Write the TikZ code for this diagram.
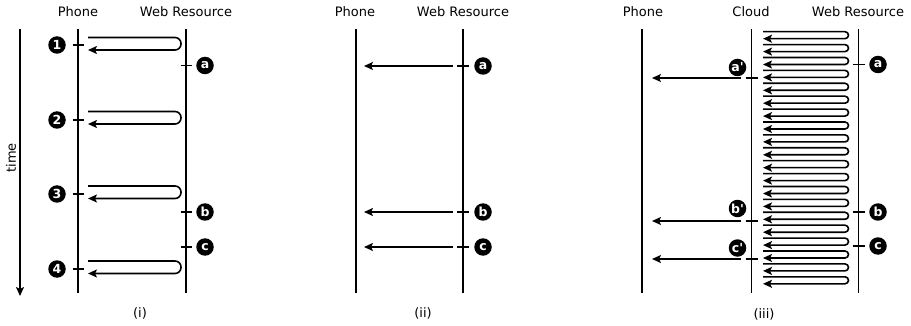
\documentclass[tikz,border=0pt]{standalone}
\usepackage{fontspec}
\setmainfont{DejaVu Sans}
\setmonofont{DejaVu Sans}
\usetikzlibrary{arrows.meta}
\begin{document}
\begin{tikzpicture}[x=1pt,y=-1pt,
  life/.style={line width=1.7pt},
  msg/.style={line width=1.6pt,-{Stealth[length=9pt,width=8pt,inset=2pt]}},
  tickmark/.style={line width=1.6pt},
  ev/.style={circle,fill=black,text=white,font=\ttfamily\bfseries\fontsize{12.5}{12.5}\selectfont,inner sep=0pt,minimum size=17.5pt},
  hdr/.style={font=\fontsize{13}{13}\selectfont}]
\useasboundingbox (0,0) rectangle (911,326);
% ---------------- panel (i)
\node[hdr] (p1) at (78,12) {Phone};
\node[hdr] (w1) at (186,12) {Web Resource};
\coordinate (p1t) at (78,29); \coordinate (p1b) at (78,293);
\coordinate (w1t) at (186,29); \coordinate (w1b) at (186,293);
\draw[life] (p1t) -- (p1b);
\draw[life] (w1t) -- (w1b);
\coordinate (tt) at (20,29); \coordinate (tb) at (20,296);
\draw[msg] (tt) -- (tb);
\node[hdr,rotate=90] (time) at (11,158) {time};
\foreach \n/\y/\m in {1/37.5/45,2/111.5/120,3/186/194,4/261/269}{
  \coordinate (L\n s) at (88,\y);
  \coordinate (L\n e) at (88,\y+12.5);
  \draw[msg,rounded corners=6pt] (L\n s) -- (181,\y) -- (181,\y+12.5) -- (L\n e);
  \node[ev] (n\n) at (57,\m) {\n};
  \coordinate (t\n a) at (72.7,\m); \coordinate (t\n b) at (83.5,\m);
  \draw[tickmark] (t\n a) -- (t\n b);
}
\foreach \l/\y in {a/65.5,b/212,c/247}{
  \node[ev] (e1\l) at (205,\y) {\l};
  \coordinate (k1\l a) at (180.5,\y); \coordinate (k1\l b) at (191.5,\y);
  \draw[tickmark] (k1\l a) -- (k1\l b);
}
\node[hdr] (c1) at (140,313) {(i)};
% ---------------- panel (ii)
\node[hdr] (p2) at (355,12) {Phone};
\node[hdr] (w2) at (463,12) {Web Resource};
\coordinate (p2t) at (356,29); \coordinate (p2b) at (356,293);
\coordinate (w2t) at (463,29); \coordinate (w2b) at (463,293);
\draw[life] (p2t) -- (p2b);
\draw[life] (w2t) -- (w2b);
\foreach \l/\y in {a/66,b/212,c/247}{
  \node[ev] (e2\l) at (483,\y) {\l};
  \coordinate (k2\l a) at (457,\y); \coordinate (k2\l b) at (469,\y);
  \draw[tickmark] (k2\l a) -- (k2\l b);
  \coordinate (m2\l s) at (453,\y); \coordinate (m2\l e) at (364,\y);
  \draw[msg] (m2\l s) -- (m2\l e);
}
\node[hdr] (c2) at (423,313) {(ii)};
% ---------------- panel (iii)
\node[hdr] (p3) at (643,12) {Phone};
\node[hdr] (cl3) at (751,12) {Cloud};
\node[hdr] (w3) at (858,12) {Web Resource};
\coordinate (p3t) at (642,29); \coordinate (p3b) at (642,293);
\coordinate (cl3t) at (751.5,29); \coordinate (cl3b) at (751.5,293);
\coordinate (w3t) at (858.5,29); \coordinate (w3b) at (858.5,293);
\draw[life] (p3t) -- (p3b);
\draw[life] (cl3t) -- (cl3b);
\draw[life] (w3t) -- (w3b);
\foreach \k in {0,...,19}{
  \pgfmathsetmacro{\yy}{31.7+12.9*\k}
  \coordinate (R\k s) at (763,\yy);
  \coordinate (R\k e) at (763,\yy+7);
  \draw[msg,rounded corners=3.5pt] (R\k s) -- (848.5,\yy) -- (848.5,\yy+7) -- (R\k e);
}
\foreach \l/\y in {a/64.5,b/212,c/246}{
  \node[ev] (e3\l) at (878,\y) {\l};
  \coordinate (k3\l a) at (853,\y); \coordinate (k3\l b) at (865,\y);
  \draw[tickmark] (k3\l a) -- (k3\l b);
}
\foreach \l/\yc/\y in {a/67.5/78,b/208.5/221,c/248/259}{
  \node[ev] (f3\l) at (737.5,\yc) {\l'};
  \coordinate (q3\l a) at (745.5,\y); \coordinate (q3\l b) at (757.5,\y);
  \draw[tickmark] (q3\l a) -- (q3\l b);
  \coordinate (m3\l s) at (741,\y); \coordinate (m3\l e) at (652,\y);
  \draw[msg] (m3\l s) -- (m3\l e);
}
\node[hdr] (c3) at (764,314) {(iii)};
\end{tikzpicture}
\end{document}
